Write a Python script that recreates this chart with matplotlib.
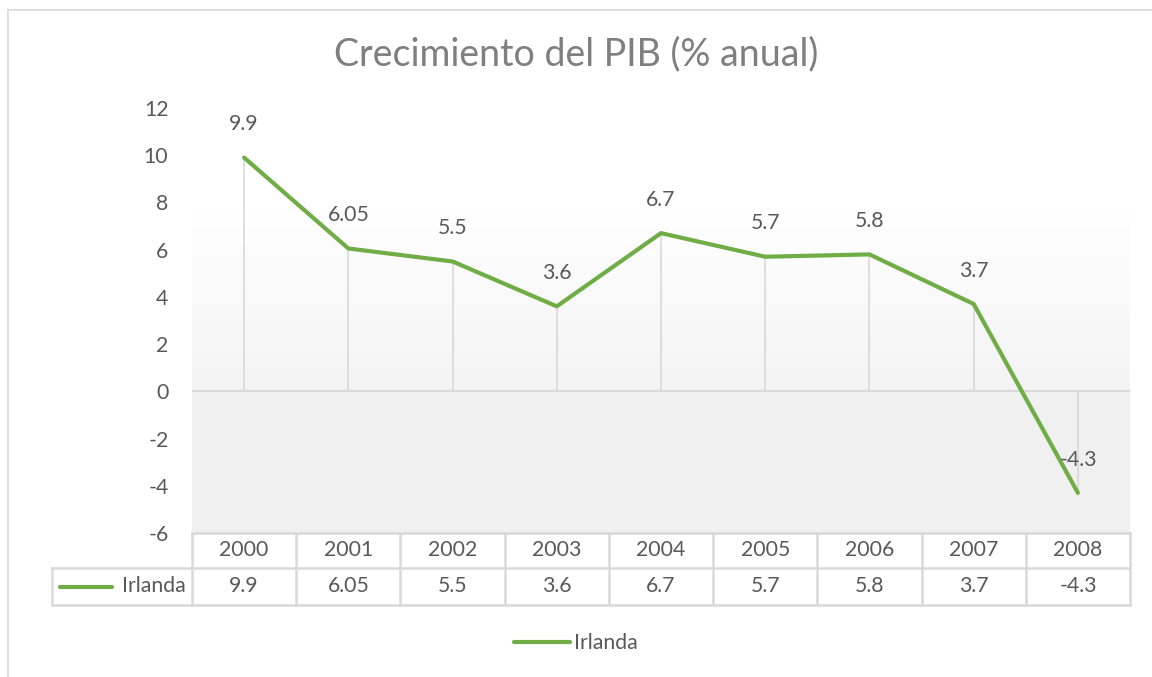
import numpy as np
import matplotlib.pyplot as plt
from matplotlib.transforms import blended_transform_factory
from matplotlib.lines import Line2D

# Datos
anios = ['2000', '2001', '2002', '2003', '2004', '2005', '2006', '2007', '2008']
irlanda = [9.9, 6.05, 5.5, 3.6, 6.7, 5.7, 5.8, 3.7, -4.3]
etiquetas = ['9.9', '6.05', '5.5', '3.6', '6.7', '5.7', '5.8', '3.7', '-4.3']
serie = 'Irlanda'
titulo = 'Crecimiento del PIB (% anual)'

verde = '#70AD47'
gris_txt = '#595959'
gris_lin = '#d9d9d9'
fs = 15.3

plt.rcParams['font.family'] = ['Lato', 'DejaVu Sans']
plt.rcParams['axes.unicode_minus'] = False

W, H = 1152, 677
fig = plt.figure(figsize=(W / 100, H / 100), dpi=100)

# area del grafico en pixeles
x0, x1 = 192, 1130
y_top, y_bot = 108, 533
ax = fig.add_axes([x0 / W, 1 - y_bot / H, (x1 - x0) / W, (y_bot - y_top) / H])
x = np.arange(len(anios))
ax.set_xlim(-0.5, len(anios) - 0.5)
ax.set_ylim(-6, 12)

# fondo degradado
yy = np.linspace(12, -6, 400)
g = np.where(yy > 7.7, 1.0, np.where(yy > 0, 0.955 + 0.045 * yy / 7.7, 0.945))
img = g[:, None, None].repeat(2, axis=1).repeat(3, axis=2)
ax.imshow(img, extent=[-0.5, len(anios) - 0.5, -6, 12], aspect='auto', zorder=0)

ax.axhline(0, color=gris_lin, lw=1.5, zorder=1)
ax.vlines(x, 0, irlanda, color=gris_lin, lw=1.2, zorder=1)
ax.plot(x, irlanda, color=verde, lw=3, solid_capstyle='round', zorder=3)

for xi, yi, t in zip(x, irlanda, etiquetas):
    ax.annotate(t, (xi, yi), xytext=(0, 24), textcoords='offset points',
                ha='center', va='center', fontsize=fs, color=gris_txt, zorder=4)

for s in ax.spines.values():
    s.set_visible(False)
ax.set_xticks([])
ax.set_yticks(np.arange(-6, 13, 2))
ax.tick_params(axis='y', length=0, pad=17, labelsize=fs, labelcolor=gris_txt)

fig.text(0.5, 1 - 54 / H, titulo, ha='center', va='center', fontsize=27,
         color='#7f7f7f')

# tabla de datos
tr = blended_transform_factory(ax.transData, ax.transAxes)
alto = y_bot - y_top
r1 = -35 / alto
r2 = -72 / alto
ancho = (x1 - x0) / len(anios)
xl = -0.5 - (x0 - 52) / ancho
xe = len(anios) - 0.5
kw = dict(color=gris_lin, lw=1.8, transform=tr, clip_on=False)
ax.plot([-0.5, xe], [0, 0], **kw)
ax.plot([xl, xe], [r1, r1], **kw)
ax.plot([xl, xe], [r2, r2], **kw)
ax.plot([xl, xl], [r1, r2], **kw)
for b in np.arange(-0.5, len(anios), 1.0):
    ax.plot([b, b], [0, r2], **kw)
for xi, a, t in zip(x, anios, etiquetas):
    ax.text(xi, r1 / 2, a, transform=tr, ha='center', va='center',
            fontsize=fs, color=gris_txt)
    ax.text(xi, (r1 + r2) / 2, t, transform=tr, ha='center', va='center',
            fontsize=fs, color=gris_txt)
ax.plot([xl + 8 / ancho, xl + 60 / ancho], [(r1 + r2) / 2] * 2, color=verde, lw=3,
        transform=tr, clip_on=False, solid_capstyle='round')
ax.text(-0.5 - 6 / ancho, (r1 + r2) / 2, serie, transform=tr, ha='right', va='center',
        fontsize=fs, color=gris_txt)

# leyenda
h = Line2D([], [], color=verde, lw=3, solid_capstyle='round')
fig.legend([h], [serie], loc='center', bbox_to_anchor=(0.5, 1 - 643 / H),
           frameon=False, fontsize=fs, labelcolor=gris_txt,
           handlelength=2.6, handletextpad=0.2)

# borde del grafico
fig.add_artist(Line2D([8 / W, 1], [1 - 10 / H] * 2, color=gris_lin, lw=1.2))
fig.add_artist(Line2D([8 / W] * 2, [0, 1 - 10 / H], color=gris_lin, lw=1.2))

fig.savefig('out.png', dpi=100)
